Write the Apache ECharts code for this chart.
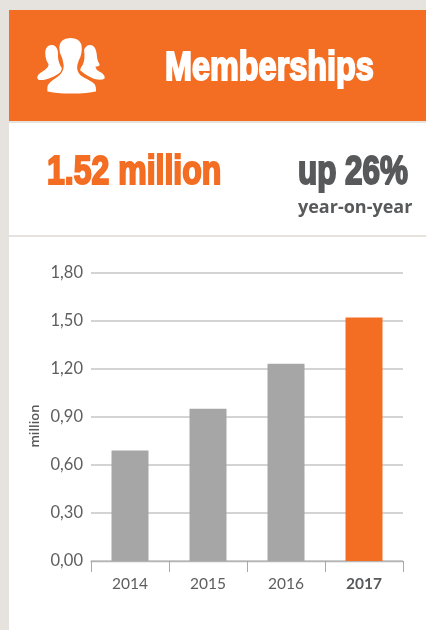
<!DOCTYPE html>
<html>
<head>
<meta charset="utf-8">
<style>html,body{margin:0;padding:0;background:#fff}#chart{width:426px;height:630px}</style>
<script src="https://cdn.jsdelivr.net/npm/echarts@6/dist/echarts.min.js"></script>
</head>
<body>
<div id="chart"></div>
<script>
// Annual memberships, in millions
const years = ['2014', '2015', '2016', '2017'];
const members = [0.69, 0.95, 1.23, 1.52];
const highlightYear = '2017';

const ORANGE = '#f36d22';
const GREY = '#a6a6a6';
const PAGE = '#e6e3df';
const INK = '#58595b';
const HEAVY = '"Liberation Sans", sans-serif';
const LIGHT = 'Lato, "Open Sans", sans-serif';

// Condensed heavy headline text, squeezed horizontally and thickened with a stroke
function heavyText(text, x, y, size, fill, scaleX) {
  return {
    type: 'text', x, y, scaleX: scaleX, silent: true,
    style: {
      text, fill, stroke: fill, lineWidth: 2.1,
      font: 'bold ' + size + 'px ' + HEAVY,
      textVerticalAlign: 'middle'
    }
  };
}

// Three-person silhouette for the header band
const iconLeft = 'M51.7 45C47 45 45 49 45.3 54C45.5 59 47 62 48.5 64C48.8 67 46 69 44 70.5C40 73 37 75 37.3 78C37.5 80 40 80.2 43 80C50 79 57 75 61.7 71.7C62.8 70 62 68 60.5 66C58.5 62 57.5 57 58 52.5C57.5 47.5 55 45 51.7 45Z';
const iconRight = 'M90 45C87 45 85 47 84 50C85 56 84.5 61 82.7 65C81.2 67 80 69 80.3 70.5C85 74 90 78 96 79.3C99 79.8 103 80 104.5 78.5C105.5 76 103 73.5 100 72C97 70.5 95.5 68.5 95.5 66.5C98 66.5 100 66 99.5 64C97.5 61 97 58 96.7 54C96 48 93.5 45 90 45Z';
const iconCentre = 'M70 37.3C63 37.5 59 41 58.5 47C58.5 52 60 56 61.5 58.5C62.5 62 62.5 64 63 65.5C63 70 61 74 56 77C51 80 47.5 82 46.8 86C46.5 88.5 46.5 90.5 46.7 92C53 93.8 62 94.3 71.7 94.3C81 94.3 90 93.8 96.7 92C97 89 96.5 85.5 95 83.5C92 80.5 87 78.5 83 76C79 73.5 77.5 69 78 65.5C79 62 79.5 60 81 57.5C82.5 53 83 48 82 44C80 39 75 37.2 70 37.3Z';
echarts.graphic.registerShape('iconLeft', echarts.graphic.extendPath(iconLeft, {}));
echarts.graphic.registerShape('iconRight', echarts.graphic.extendPath(iconRight, {}));
echarts.graphic.registerShape('iconCentre', echarts.graphic.extendPath(iconCentre, {}));

const chart = echarts.init(document.getElementById('chart'), null, { renderer: 'canvas' });
chart.setOption({
  backgroundColor: '#ffffff',
  animation: false,
  grid: { left: 91, right: 23, top: 272.5, height: 288.5, containLabel: false },
  xAxis: {
    type: 'category',
    data: years.map(y => y === highlightYear
      ? { value: y, textStyle: { fontWeight: 'bold', color: INK } }
      : y),
    axisTick: { show: true, alignWithLabel: false, length: 11, lineStyle: { color: '#a9a9a9', width: 1 } },
    axisLine: { show: true, lineStyle: { color: '#b4b4b4', width: 1.4 } },
    axisLabel: { color: '#5e5e5e', fontFamily: LIGHT, fontSize: 15.5, margin: 15 }
  },
  yAxis: {
    type: 'value', min: 0, max: 1.8, interval: 0.3,
    axisLine: { show: false }, axisTick: { show: false },
    splitLine: { lineStyle: { color: '#c6c6c6', width: 1.5 } },
    axisLabel: {
      color: '#5e5e5e', fontFamily: LIGHT, fontSize: 16.5, margin: 8,
      padding: [0, 0, 2, 0],
      formatter: v => v.toFixed(2).replace('.', ',')
    }
  },
  series: [{
    type: 'bar',
    barWidth: 37,
    data: members.map((v, i) => ({
      value: v,
      itemStyle: { color: years[i] === highlightYear ? ORANGE : GREY }
    })),
    z: 3
  }],
  graphic: [
    { type: 'rect', z: -1, silent: true, shape: { x: 0, y: 0, width: 426, height: 10 }, style: { fill: PAGE } },
    { type: 'rect', z: -1, silent: true, shape: { x: 0, y: 0, width: 9, height: 630 }, style: { fill: PAGE } },
    { type: 'rect', silent: true, shape: { x: 9, y: 10, width: 417, height: 111 }, style: { fill: ORANGE } },
    { type: 'rect', silent: true, shape: { x: 9, y: 121, width: 417, height: 2 }, style: { fill: PAGE } },
    { type: 'rect', silent: true, shape: { x: 9, y: 235, width: 417, height: 2 }, style: { fill: PAGE } },
    { type: 'iconLeft', silent: true, style: { fill: '#fff' } },
    { type: 'iconRight', silent: true, style: { fill: '#fff' } },
    { type: 'iconCentre', silent: true, style: { fill: '#fff', stroke: ORANGE, lineWidth: 1.5 } },
    heavyText('Memberships', 165, 68.5, 40, '#ffffff', 0.81),
    heavyText('1.52 million', 47, 173, 40, ORANGE, 0.8),
    heavyText('up 26%', 298, 173, 40, INK, 0.785),
    {
      type: 'text', x: 298, y: 208, silent: true,
      style: { text: 'year-on-year', fill: INK, font: 'bold 18px "Open Sans", sans-serif', textVerticalAlign: 'middle' }
    },
    {
      type: 'text', x: 35, y: 426, rotation: Math.PI / 2, silent: true,
      style: { text: 'million', fill: INK, font: '600 13px "Open Sans", sans-serif', textAlign: 'center', textVerticalAlign: 'middle' }
    }
  ]
});
</script>
</body>
</html>
